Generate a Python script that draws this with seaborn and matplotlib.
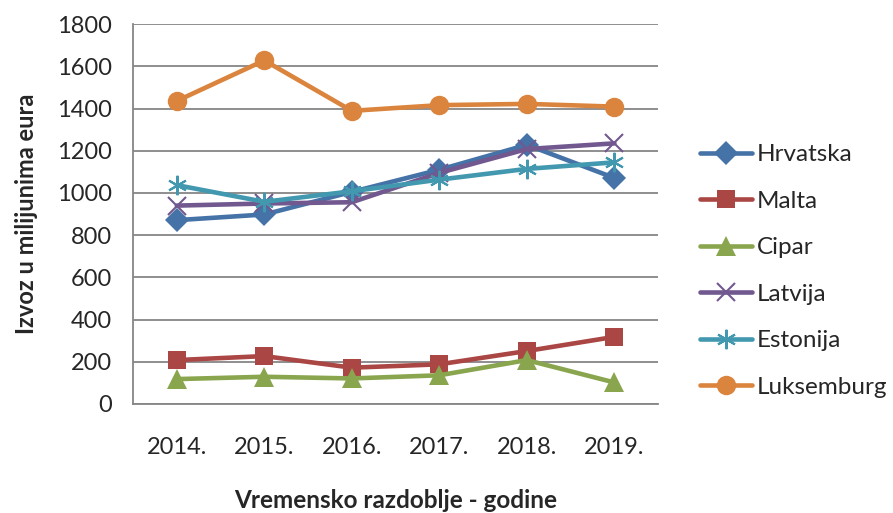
import pandas as pd
import matplotlib.pyplot as plt
import seaborn as sns
from matplotlib.ticker import FixedLocator, NullFormatter

# Data (izvoz u milijunima eura)
godine = ['2014.', '2015.', '2016.', '2017.', '2018.', '2019.']
hrvatska = [871, 898, 1005, 1110, 1228, 1071]
malta = [208, 227, 172, 188, 251, 318]
cipar = [118, 129, 121, 136, 208, 102]
latvija = [940, 950, 956, 1095, 1208, 1235]
estonija = [1037, 958, 1008, 1063, 1114, 1145]
luksemburg = [1436, 1628, 1389, 1416, 1422, 1409]

zemlje = ['Hrvatska', 'Malta', 'Cipar', 'Latvija', 'Estonija', 'Luksemburg']
vrijednosti = [hrvatska, malta, cipar, latvija, estonija, luksemburg]
boje = ['#4572A7', '#AA4643', '#89A54E', '#71588F', '#4198AF', '#DB843D']
markeri = ['D', 's', '^', 'x', (6, 2, 0), 'o']
velicine = [12, 13, 14, 13, 14, 14]

sns.set_style('white')
plt.rcParams['font.family'] = ['Lato', 'DejaVu Sans']

fig = plt.figure(figsize=(8.93, 5.13), dpi=100)
ax = fig.add_axes([0.149, 0.2125, 0.588, 0.7405])

for ime, vals, boja, m, ms in zip(zemlje, vrijednosti, boje, markeri, velicine):
    df = pd.DataFrame({'Godina': godine, 'Izvoz': vals})
    filled = m not in ('x', (6, 2, 0))
    sns.lineplot(data=df, x='Godina', y='Izvoz', ax=ax, color=boja, label=ime,
                 linewidth=3.3, marker=m, markersize=ms,
                 markeredgecolor=boja, markerfacecolor=boja,
                 markeredgewidth=0 if filled else 1.5, clip_on=False)

ax.set_ylim(0, 1800)
ax.set_xlim(-0.5, 5.5)
ax.set_yticks(range(0, 1801, 200))
ax.yaxis.grid(True, color='#868686', linewidth=1.3)
ax.set_axisbelow(True)

# category boundaries as tick marks, labels at centres
ax.set_xticks(range(6))
ax.set_xticklabels(godine)
ax.xaxis.set_minor_locator(FixedLocator([i - 0.5 for i in range(7)]))
ax.xaxis.set_minor_formatter(NullFormatter())
ax.tick_params(axis='x', which='major', length=0, pad=24, labelsize=17)
ax.tick_params(axis='x', which='minor', length=7, width=1.3, color='#868686',
               direction='out')
ax.tick_params(axis='y', length=7, width=1.3, color='#868686', direction='out',
               labelsize=17, pad=8)

for s in ['top', 'right']:
    ax.spines[s].set_visible(False)
for s in ['left', 'bottom']:
    ax.spines[s].set_color('#868686')
    ax.spines[s].set_linewidth(1.3)

ax.set_xlabel('Vremensko razdoblje - godine', fontsize=17.5, fontweight='bold',
              labelpad=22)
ax.set_ylabel('Izvoz u milijunima eura', fontsize=17, fontweight='bold',
              labelpad=14)

ax.legend(loc='center left', bbox_to_anchor=(1.0, 0.35), frameon=False,
          fontsize=17.5, handlelength=2.14, handletextpad=0.2, labelspacing=1.05,
          borderaxespad=1.33)

fig.savefig('out.png', dpi=100)
